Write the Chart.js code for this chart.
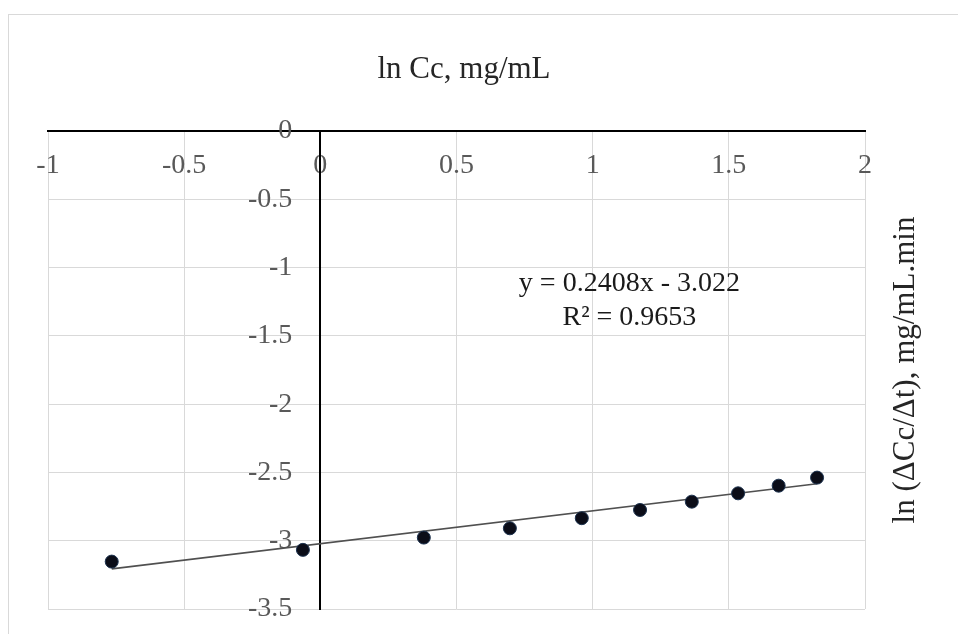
<!DOCTYPE html>
<html>
<head>
<meta charset="utf-8">
<script src="https://cdn.jsdelivr.net/npm/chart.js@4.4.1/dist/chart.umd.min.js"></script>
<style>
  html, body { margin: 0; padding: 0; background: #ffffff; }
  #wrap { width: 958px; height: 634px; position: relative; }
</style>
</head>
<body>
<div id="wrap"><canvas id="c" width="958" height="634"></canvas></div>
<script>
// ---- data ----
const lnCc = [-0.766, -0.064, 0.380, 0.696, 0.960, 1.174, 1.364, 1.534, 1.683, 1.824];
const lnRate = [-3.153, -3.067, -2.977, -2.909, -2.835, -2.775, -2.714, -2.653, -2.597, -2.538];
const xTicks = [-1, -0.5, 0, 0.5, 1, 1.5, 2];
const yTicks = [0, -0.5, -1, -1.5, -2, -2.5, -3, -3.5];
const trendSlope = 0.2408;
const trendIntercept = -3.022;
const trendR2 = 0.9653;
const xTitle = 'ln Cc, mg/mL';
const yTitle = 'ln (\u0394Cc/\u0394t), mg/mL.min';
const eqLines = ['y = 0.2408x - 3.022', 'R\u00B2 = 0.9653'];

const points = lnCc.map((x, i) => ({ x: x, y: lnRate[i] }));
const xMin = Math.min(...lnCc), xMax = Math.max(...lnCc);
const trend = [
  { x: xMin, y: trendSlope * xMin + trendIntercept },
  { x: xMax, y: trendSlope * xMax + trendIntercept }
];

const SERIF = '"Liberation Serif", "Times New Roman", serif';
const Y_LABEL_GAP = '    '; // space between y tick labels and the vertical axis

const decor = {
  id: 'decor',
  beforeDraw(chart) {
    const ctx = chart.ctx;
    ctx.save();
    ctx.fillStyle = '#ffffff';
    ctx.fillRect(0, 0, chart.width, chart.height);
    ctx.strokeStyle = '#d9d9d9';
    ctx.lineWidth = 1;
    ctx.strokeRect(8.5, 14.5, chart.width, chart.height);
    ctx.restore();
  },
  afterDraw(chart) {
    const ctx = chart.ctx;
    const a = chart.chartArea;
    const xs = chart.scales.x, ys = chart.scales.y;
    ctx.save();
    // x axis title (top)
    ctx.fillStyle = '#262626';
    ctx.font = '31px ' + SERIF;
    ctx.textAlign = 'center';
    ctx.textBaseline = 'middle';
    ctx.fillText(xTitle, 464, 70);
    // y axis title (right, rotated)
    ctx.save();
    ctx.translate(a.right + 41, (a.top + a.bottom) / 2);
    ctx.rotate(-Math.PI / 2);
    ctx.fillText(yTitle, 0, 0);
    ctx.restore();
    // trendline label
    ctx.font = '28px ' + SERIF;
    ctx.fillStyle = '#1a1a1a';
    const ex = xs.getPixelForValue(1.135);
    const ey = ys.getPixelForValue(-1.115);
    ctx.fillText(eqLines[0], ex, ey);
    ctx.fillText(eqLines[1], ex, ey + 34);
    ctx.restore();
  }
};

new Chart(document.getElementById('c'), {
  type: 'scatter',
  data: {
    datasets: [
      {
        label: 'Data',
        data: points,
        pointRadius: 6.5,
        pointHoverRadius: 6.5,
        pointBackgroundColor: '#0b0d18',
        pointBorderColor: '#1d3350',
        pointBorderWidth: 1,
        showLine: false,
        order: 1
      },
      {
        label: 'Linear trend',
        type: 'line',
        data: trend,
        borderColor: '#505050',
        borderWidth: 1.6,
        pointRadius: 0,
        fill: false,
        order: 2
      }
    ]
  },
  plugins: [decor],
  options: {
    responsive: false,
    animation: false,
    layout: { padding: { left: 48, right: 93, top: 131, bottom: 25 } },
    plugins: {
      legend: { display: false },
      tooltip: { enabled: false },
      title: { display: false }
    },
    scales: {
      x: {
        type: 'linear',
        min: -1, max: 2,
        position: { y: 0 },
        afterBuildTicks: s => { s.ticks = xTicks.map(v => ({ value: v })); },
        afterFit: s => { s.height = 0; s.paddingLeft = 0; s.paddingRight = 0; },
        grid: { color: '#d9d9d9', lineWidth: 1, drawTicks: false },
        border: { display: true, color: '#000000', width: 2 },
        ticks: {
          color: '#595959', font: { family: SERIF, size: 28 }, padding: 18, maxRotation: 0,
          callback: v => String(v)
        }
      },
      y: {
        type: 'linear',
        min: -3.5, max: 0,
        position: { x: 0 },
        afterBuildTicks: s => { s.ticks = yTicks.map(v => ({ value: v })); },
        afterFit: s => { s.width = 0; s.paddingTop = 0; s.paddingBottom = 0; },
        grid: { color: '#d9d9d9', lineWidth: 1, drawTicks: false },
        border: { display: true, color: '#000000', width: 2 },
        ticks: {
          color: '#595959', font: { family: SERIF, size: 28 }, padding: 0,
          callback: v => String(v) + Y_LABEL_GAP
        }
      }
    }
  }
});
</script>
</body>
</html>
